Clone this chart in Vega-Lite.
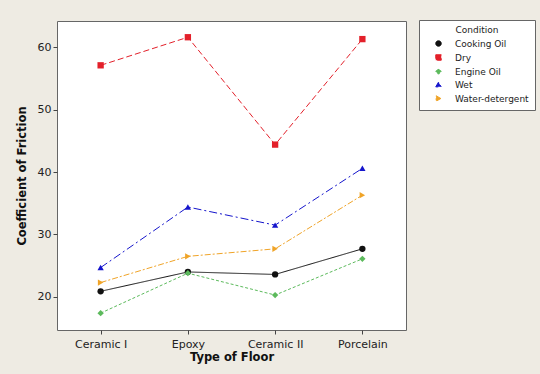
{
  "$schema": "https://vega.github.io/schema/vega-lite/v6.json",
  "width": 349,
  "height": 309,
  "autosize": {"type": "none"},
  "padding": {"left": 57, "top": 21, "right": 134, "bottom": 44},
  "background": "#eeebe3",
  "config": {
    "view": {"fill": "white", "stroke": "#666666", "strokeWidth": 1},
    "font": "DejaVu Sans",
    "axis": {"grid": false, "domain": false, "tickColor": "#444", "tickSize": 4, "labelColor": "#222", "labelFontSize": 11, "titleFontSize": 11.5, "titleFontWeight": "bold", "titleColor": "#111"}
  },
  "data": {
    "values": [
      {"floor": "Ceramic I", "cond": "Cooking Oil", "cof": 20.9},
      {"floor": "Epoxy", "cond": "Cooking Oil", "cof": 24.0},
      {"floor": "Ceramic II", "cond": "Cooking Oil", "cof": 23.6},
      {"floor": "Porcelain", "cond": "Cooking Oil", "cof": 27.7},
      {"floor": "Ceramic I", "cond": "Dry", "cof": 57.1},
      {"floor": "Epoxy", "cond": "Dry", "cof": 61.6},
      {"floor": "Ceramic II", "cond": "Dry", "cof": 44.4},
      {"floor": "Porcelain", "cond": "Dry", "cof": 61.3},
      {"floor": "Ceramic I", "cond": "Engine Oil", "cof": 17.4},
      {"floor": "Epoxy", "cond": "Engine Oil", "cof": 23.8},
      {"floor": "Ceramic II", "cond": "Engine Oil", "cof": 20.3},
      {"floor": "Porcelain", "cond": "Engine Oil", "cof": 26.1},
      {"floor": "Ceramic I", "cond": "Wet", "cof": 24.7},
      {"floor": "Epoxy", "cond": "Wet", "cof": 34.4},
      {"floor": "Ceramic II", "cond": "Wet", "cof": 31.5},
      {"floor": "Porcelain", "cond": "Wet", "cof": 40.6},
      {"floor": "Ceramic I", "cond": "Water-detergent", "cof": 22.3},
      {"floor": "Epoxy", "cond": "Water-detergent", "cof": 26.5},
      {"floor": "Ceramic II", "cond": "Water-detergent", "cof": 27.7},
      {"floor": "Porcelain", "cond": "Water-detergent", "cof": 36.3}
    ]
  },
  "encoding": {
    "x": {"field": "floor", "type": "ordinal", "sort": ["Ceramic I", "Epoxy", "Ceramic II", "Porcelain"],
      "scale": {"type": "point", "padding": 0.5},
      "axis": {"title": "Type of Floor", "labelAngle": 0, "labelPadding": 4, "titlePadding": 2}},
    "y": {"field": "cof", "type": "quantitative", "scale": {"domain": [14.7, 64.2], "nice": false, "zero": false},
      "axis": {"title": "Coefficient of Friction", "values": [20, 30, 40, 50, 60], "titlePadding": 10}},
    "color": {"field": "cond", "type": "nominal", "title": "Condition",
      "scale": {"domain": ["Cooking Oil", "Dry", "Engine Oil", "Wet", "Water-detergent"], "range": ["#111111", "#e3202a", "#5cba5c", "#1515cc", "#f0a428"]},
      "legend": {"orient": "none", "legendX": 362, "legendY": -1, "fillColor": "white", "strokeColor": "#666", "padding": 6, "titleFontSize": 9, "titleFontWeight": "normal", "titleColor": "#222", "titleAnchor": "middle", "labelFontSize": 9, "labelColor": "#222", "symbolSize": 30, "rowPadding": 3, "titlePadding": 4, "symbolStrokeWidth": 1, "symbolOffset": 9, "labelOffset": 12}}
  },
  "layer": [
    {
      "mark": {"type": "line", "strokeWidth": 1},
      "encoding": {
        "strokeDash": {"field": "cond", "type": "nominal", "legend": null,
          "scale": {"domain": ["Cooking Oil", "Dry", "Engine Oil", "Wet", "Water-detergent"], "range": [[1, 0], [6, 3], [3, 2], [8, 3, 2, 3], [6, 2, 2, 2]]}}
      }
    },
    {
      "mark": {"type": "point", "filled": true, "opacity": 1, "size": 40},
      "encoding": {
        "shape": {"field": "cond", "type": "nominal", "title": "Condition",
          "scale": {"domain": ["Cooking Oil", "Dry", "Engine Oil", "Wet", "Water-detergent"], "range": ["circle", "square", "diamond", "triangle-up", "triangle-right"]}}
      }
    }
  ]
}
